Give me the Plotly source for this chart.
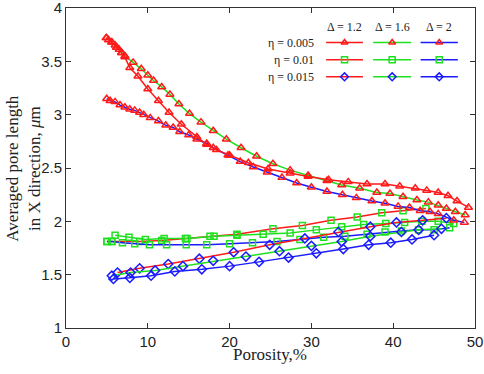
import plotly.graph_objects as go

# ---------------- data ----------------
# eta = 0.005 (triangles)
tri_r_x = [4.9, 5.2, 5.6, 6.0, 6.2, 6.5, 6.8, 7.2, 7.8, 8.8, 10.0, 11.3, 12.6, 14.1, 16.0, 17.2, 18.4, 20.0, 22.3, 24.7, 27.4, 29.6, 32.1, 34.5, 36.8, 39.0, 40.8, 42.7, 44.1, 45.5, 46.7, 47.8, 49.2]
tri_r_y = [3.72, 3.70, 3.68, 3.65, 3.63, 3.61, 3.58, 3.54, 3.44, 3.36, 3.24, 3.13, 3.02, 2.91, 2.79, 2.72, 2.67, 2.62, 2.55, 2.49, 2.45, 2.42, 2.39, 2.37, 2.35, 2.35, 2.33, 2.31, 2.29, 2.27, 2.24, 2.19, 2.13]
tri_g_x = [4.97, 5.6, 6.2, 6.8, 7.2, 8.2, 9.2, 10.0, 10.7, 11.7, 12.7, 13.8, 15.1, 16.5, 18.0, 19.6, 21.4, 23.3, 25.3, 27.4, 29.6, 31.9, 33.7, 35.9, 38.0, 39.6, 41.2, 42.9, 44.3, 45.5, 46.5, 47.6, 48.8]
tri_g_y = [3.72, 3.68, 3.63, 3.58, 3.55, 3.49, 3.43, 3.37, 3.32, 3.26, 3.19, 3.10, 3.01, 2.93, 2.85, 2.77, 2.69, 2.61, 2.54, 2.48, 2.43, 2.38, 2.34, 2.31, 2.27, 2.26, 2.23, 2.20, 2.18, 2.15, 2.12, 2.09, 2.06]
tri_b_x = [4.97, 5.4, 6.0, 6.6, 7.2, 7.8, 8.4, 9.0, 9.5, 10.3, 11.3, 12.2, 13.1, 13.9, 15.0, 16.0, 17.2, 18.0, 19.8, 21.3, 22.9, 24.6, 26.4, 28.2, 30.0, 31.9, 33.8, 35.5, 37.4, 39.0, 40.6, 42.0, 43.3, 44.5, 45.5, 47.4, 48.7]
tri_b_y = [3.15, 3.13, 3.12, 3.09, 3.07, 3.05, 3.04, 3.02, 3.00, 2.97, 2.94, 2.90, 2.88, 2.84, 2.81, 2.77, 2.73, 2.69, 2.62, 2.56, 2.51, 2.46, 2.41, 2.36, 2.32, 2.28, 2.25, 2.22, 2.19, 2.17, 2.14, 2.13, 2.10, 2.09, 2.07, 2.01, 1.99]

# eta = 0.01 (squares)
sq_r_x = [5.0, 5.6, 9.0, 11.7, 14.6, 17.6, 20.9, 25.3, 28.9, 32.4, 35.6, 38.6, 41.2, 44.0]
sq_r_y = [1.81, 1.81, 1.81, 1.82, 1.84, 1.86, 1.88, 1.93, 1.96, 2.01, 2.04, 2.08, 2.10, 2.12]
sq_g_x = [6.0, 7.7, 9.7, 12.0, 14.8, 18.1, 20.9, 24.1, 27.4, 30.6, 33.7, 36.4, 39.1, 41.4, 43.5, 45.5, 47.4]
sq_g_y = [1.87, 1.85, 1.83, 1.84, 1.84, 1.86, 1.87, 1.88, 1.89, 1.92, 1.95, 1.97, 1.98, 1.99, 2.00, 2.00, 1.98]
sq_b_x = [5.0, 5.6, 6.9, 8.4, 10.2, 12.3, 14.7, 17.2, 20.0, 22.8, 25.8, 28.6, 31.5, 34.1, 36.8, 39.0, 41.0, 43.1, 45.0, 46.9]
sq_b_y = [1.81, 1.81, 1.80, 1.79, 1.78, 1.78, 1.78, 1.78, 1.79, 1.80, 1.81, 1.83, 1.85, 1.86, 1.88, 1.90, 1.91, 1.92, 1.92, 1.94]

# eta = 0.015 (diamonds)
di_r_x = [6.3, 9.0, 12.5, 16.3, 20.5, 24.9, 29.2, 33.3, 37.2, 40.4, 43.6, 46.5]
di_r_y = [1.52, 1.56, 1.60, 1.65, 1.71, 1.78, 1.84, 1.90, 1.95, 1.99, 2.01, 2.03]
di_g_x = [5.6, 7.9, 10.9, 14.3, 18.0, 22.0, 26.1, 30.0, 33.7, 37.2, 41.0, 43.1, 45.9]
di_g_y = [1.49, 1.52, 1.54, 1.58, 1.63, 1.67, 1.72, 1.77, 1.81, 1.86, 1.90, 1.92, 1.93]
di_b_x = [5.8, 7.8, 10.4, 13.3, 16.6, 20.0, 23.6, 27.2, 30.6, 33.9, 37.0, 39.7, 42.3, 45.0]
di_b_y = [1.46, 1.47, 1.49, 1.53, 1.55, 1.58, 1.62, 1.66, 1.70, 1.74, 1.78, 1.80, 1.83, 1.87]

delta_labels = ["Δ = 1.2", "Δ = 1.6", "Δ = 2"]
eta_labels = ["η = 0.005", "η = 0.01", "η = 0.015"]
x_ticks = [0, 10, 20, 30, 40, 50]
y_ticks = [1, 1.5, 2, 2.5, 3, 3.5, 4]

# ---------------- styles ----------------
RED, GREEN, BLUE = "#ff1a1a", "#1ee01e", "#1a1aff"
line_cols = [RED, GREEN, BLUE]
eta_syms = ["triangle-up-open", "square-open", "diamond-open"]
eta_sizes = [7, 6, 7]
eta_mcols = [RED, GREEN, BLUE]
SERIF = "Liberation Serif, Times New Roman, serif"
SANS = "Liberation Sans, Arial, sans-serif"
TXT = "#222"

series = [
    [(tri_r_x, tri_r_y), (tri_g_x, tri_g_y), (tri_b_x, tri_b_y)],
    [(sq_r_x, sq_r_y), (sq_g_x, sq_g_y), (sq_b_x, sq_b_y)],
    [(di_r_x, di_r_y), (di_g_x, di_g_y), (di_b_x, di_b_y)],
]

fig = go.Figure()
draw_order = [(1, 0), (1, 1), (1, 2), (2, 0), (2, 1), (2, 2), (0, 2), (0, 1), (0, 0)]
for ei, di in draw_order:
    xs, ys = series[ei][di]
    fig.add_trace(go.Scatter(
        x=xs, y=ys, mode="lines+markers",
        line=dict(color=line_cols[di], width=1.5),
        marker=dict(symbol=eta_syms[ei], size=eta_sizes[ei], color=eta_mcols[ei],
                    line=dict(color=eta_mcols[ei], width=1.5)),
        showlegend=False, hoverinfo="skip"))

# legend table drawn on an overlay axis (0..1 in plot area)
col_x = [(0.636, 0.726), (0.751, 0.844), (0.867, 0.958)]
row_y = [0.892, 0.838, 0.785]
for ei in range(3):
    for di in range(3):
        x0, x1 = col_x[di]
        fig.add_trace(go.Scatter(
            x=[x0, x1], y=[row_y[ei]] * 2, xaxis="x2", yaxis="y2", mode="lines",
            line=dict(color=line_cols[di], width=1.5),
            showlegend=False, hoverinfo="skip"))
        fig.add_trace(go.Scatter(
            x=[(x0 + x1) / 2], y=[row_y[ei]], xaxis="x2", yaxis="y2", mode="markers",
            marker=dict(symbol=eta_syms[ei], size=6, color=eta_mcols[ei],
                        line=dict(color=eta_mcols[ei], width=1.5)),
            showlegend=False, hoverinfo="skip"))
    fig.add_annotation(x=0.612, y=row_y[ei], xref="x2", yref="y2", text=eta_labels[ei],
                       showarrow=False, xanchor="right", yanchor="middle",
                       font=dict(family=SERIF, size=12, color=TXT))
for di in range(3):
    fig.add_annotation(x=(col_x[di][0] + col_x[di][1]) / 2, y=0.942, xref="x2", yref="y2",
                       text=delta_labels[di], showarrow=False, xanchor="center", yanchor="middle",
                       font=dict(family=SERIF, size=12, color=TXT))

# axis titles as paper annotations
fig.add_annotation(x=-0.106, y=0.5, xref="paper", yref="paper", textangle=-90,
                   text="Averaged pore length<br>in X direction, <i>μ</i>m",
                   showarrow=False, xanchor="center", yanchor="middle",
                   font=dict(family=SERIF, size=17, color=TXT))
fig.add_annotation(x=0.499, y=-0.084, xref="paper", yref="paper", text="Porosity,%",
                   showarrow=False, xanchor="center", yanchor="middle",
                   font=dict(family=SERIF, size=17, color=TXT))

axis_common = dict(showline=True, linecolor="#333", linewidth=1, mirror="ticks",
                   ticks="inside", ticklen=5, tickcolor="#333", showgrid=False, zeroline=False,
                   automargin=False, ticklabeloverflow="allow",
                   tickfont=dict(family=SANS, size=15, color=TXT))

fig.update_layout(
    width=484, height=374,
    margin=dict(l=66, r=9, t=8, b=46),
    paper_bgcolor="white", plot_bgcolor="white",
    xaxis=dict(range=[0, 50], tickvals=x_ticks, ticktext=[str(v) for v in x_ticks], **axis_common),
    yaxis=dict(range=[1, 4], tickvals=y_ticks, ticktext=[f"{v:g}" for v in y_ticks], **axis_common),
    xaxis2=dict(range=[0, 1], overlaying="x", visible=False, fixedrange=True),
    yaxis2=dict(range=[0, 1], overlaying="y", visible=False, fixedrange=True),
)

fig.write_html("out.html", config={"displayModeBar": False, "staticPlot": True},
               post_script="document.body.style.margin='0px';")
